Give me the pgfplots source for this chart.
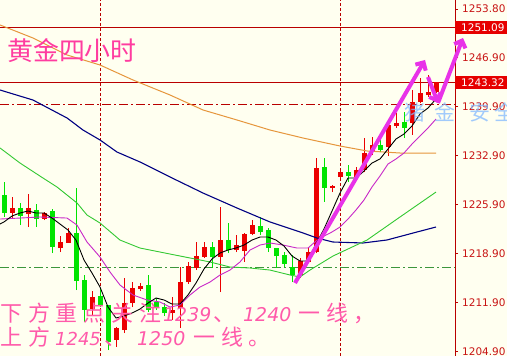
\documentclass[border=0pt]{standalone}
\usepackage{pgfplots}
\pgfplotsset{compat=1.18}
\usepackage{pgfplotstable}
\usepackage{fontspec}
\setmainfont{DejaVu Sans}
\newfontfamily\cjk{Noto Sans CJK SC}
\newfontfamily\cjksp[LetterSpace=27]{Noto Sans CJK SC}
\usetikzlibrary{arrows.meta}

\definecolor{bg}{RGB}{255,255,240}
\definecolor{cred}{RGB}{235,0,0}
\definecolor{cgreen}{RGB}{0,228,0}
\definecolor{axred}{RGB}{185,0,0}
\definecolor{lblred}{RGB}{200,20,20}
\definecolor{boxred}{RGB}{230,0,0}
\definecolor{maMag}{RGB}{200,40,200}
\definecolor{maGreen}{RGB}{50,200,50}
\definecolor{maNavy}{RGB}{0,0,130}
\definecolor{maOrange}{RGB}{230,150,60}
\definecolor{hgreen}{RGB}{60,150,60}
\definecolor{pinkarrow}{RGB}{232,50,232}
\definecolor{pinktxt}{RGB}{255,60,160}
\definecolor{pinktxt2}{RGB}{255,90,170}
\definecolor{wmblue}{RGB}{130,185,255}

% red candles: x, body top, body bottom, wick high, wick low
\pgfplotstableread{
x bt bb wh wl
12.5 1225.40 1224.69 1226.97 1223.97
28.5 1225.40 1224.54 1227.40 1222.69
44.5 1224.69 1223.83 1224.83 1223.69
60.5 1220.55 1219.69 1221.40 1219.12
68.5 1221.83 1220.41 1222.55 1220.41
92.5 1212.70 1210.99 1213.56 1210.13
116.5 1208.28 1206.57 1208.42 1205.57
124.5 1211.84 1207.99 1215.41 1207.56
132.5 1213.99 1211.84 1214.84 1211.27
140.5 1214.27 1213.84 1214.70 1213.56
172.5 1210.85 1210.42 1212.70 1209.42
180.5 1214.84 1211.13 1216.98 1208.28
188.5 1217.12 1214.84 1217.70 1214.56
196.5 1218.55 1216.84 1220.55 1216.55
204.5 1219.84 1218.41 1220.55 1218.27
220.5 1220.83 1218.41 1225.54 1213.41
236.5 1220.12 1219.41 1221.55 1219.12
244.5 1221.69 1219.26 1221.83 1217.70
252.5 1222.97 1221.69 1223.69 1221.55
300.5 1217.84 1215.84 1218.27 1215.41
308.5 1219.12 1217.70 1219.69 1217.55
316.5 1231.11 1219.12 1232.53 1218.98
332.5 1228.54 1228.25 1228.68 1227.68
340.5 1230.54 1229.82 1230.82 1229.68
356.5 1230.82 1229.82 1231.25 1229.68
364.5 1233.25 1230.82 1235.39 1230.54
372.5 1234.39 1233.39 1235.53 1232.96
388.5 1237.24 1234.10 1237.67 1232.82
396.5 1237.53 1237.10 1238.96 1236.82
412.5 1240.53 1237.53 1242.24 1235.82
420.5 1241.81 1240.53 1243.95 1240.38
428.5 1241.95 1241.52 1244.38 1241.24
436.5 1243.38 1241.95 1243.38 1241.81
}\redc

% green candles
\pgfplotstableread{
x bt bb wh wl
4.5 1227.26 1224.69 1229.11 1224.12
20.5 1225.40 1224.26 1226.11 1222.97
36.5 1225.12 1223.83 1225.97 1222.69
52.5 1224.97 1219.84 1225.26 1218.98
76.5 1221.83 1214.98 1228.25 1213.70
84.5 1215.13 1210.85 1215.84 1209.13
100.5 1212.84 1211.56 1213.99 1211.27
108.5 1211.56 1206.28 1211.56 1205.14
148.5 1214.41 1210.85 1215.84 1210.56
156.5 1211.99 1211.27 1212.56 1210.85
164.5 1211.27 1210.42 1211.84 1209.99
212.5 1219.84 1218.41 1220.55 1216.84
228.5 1220.83 1219.41 1223.26 1218.98
260.5 1222.83 1221.98 1224.12 1221.55
268.5 1222.26 1219.69 1222.55 1219.12
276.5 1219.69 1218.55 1219.69 1216.84
284.5 1218.69 1217.41 1219.12 1216.98
292.5 1216.98 1215.84 1218.69 1214.84
324.5 1231.25 1228.25 1232.53 1226.26
348.5 1230.54 1229.97 1231.54 1229.11
380.5 1234.39 1233.68 1235.53 1233.39
404.5 1237.67 1236.82 1239.10 1235.39
}\greenc

\begin{document}
\begin{tikzpicture}
\fill[bg] (0,0) rectangle (507bp,356bp);
\begin{axis}[
  at={(0,0)}, anchor=south west, scale only axis,
  width=455bp, height=356bp,
  xmin=0, xmax=455, ymin=1204.285, ymax=1255.084,
  axis x line=none, axis y line*=right,
  axis line style={draw=axred, line width=1bp},
  ytick={1204.9,1211.9,1218.9,1225.9,1232.9,1239.9,1246.9,1253.8},
  yticklabel pos=right,
  tick align=outside, major tick length=3bp,
  tick style={draw=axred, line width=0.8bp},
  yticklabel style={font=\fontsize{10.5}{12}\selectfont, text=lblred, anchor=west, inner sep=0pt, xshift=4bp},
  /pgf/number format/fixed, /pgf/number format/fixed zerofill,
  /pgf/number format/precision=2, /pgf/number format/1000 sep={},
  /pgf/number format/assume math mode=true,
]
% horizontal / vertical reference lines
\addplot[axred, line width=1bp] coordinates {(0,1251.09) (455,1251.09)};
\addplot[axred, line width=1bp] coordinates {(0,1243.32) (455,1243.32)};
\addplot[axred, line width=0.9bp, dash pattern=on 9bp off 3bp on 2bp off 3bp] coordinates {(0,1240.2) (455,1240.2)};
\addplot[hgreen, line width=0.9bp, dash pattern=on 9bp off 3bp on 2bp off 3bp] coordinates {(0,1216.85) (455,1216.85)};
\addplot[axred, line width=0.9bp, dash pattern=on 3bp off 2bp] coordinates {(100,1204.285) (100,1255.084)};
\addplot[axred, line width=0.9bp, dash pattern=on 3bp off 2bp] coordinates {(340,1204.285) (340,1255.084)};

% candles: wicks
\addplot[draw=none, mark=none, error bars/.cd, y dir=plus, y explicit, error mark=none,
  error bar style={draw=cred, line width=1bp, solid}]
  table[x=x, y=wl, y error expr=\thisrow{wh}-\thisrow{wl}] {\redc};
\addplot[draw=none, mark=none, error bars/.cd, y dir=plus, y explicit, error mark=none,
  error bar style={draw=cgreen, line width=1bp, solid}]
  table[x=x, y=wl, y error expr=\thisrow{wh}-\thisrow{wl}] {\greenc};
% candles: bodies
\addplot[draw=none, mark=none, error bars/.cd, y dir=plus, y explicit, error mark=none,
  error bar style={draw=cred, line width=5bp, solid}]
  table[x=x, y=bb, y error expr=\thisrow{bt}-\thisrow{bb}] {\redc};
\addplot[draw=none, mark=none, error bars/.cd, y dir=plus, y explicit, error mark=none,
  error bar style={draw=cgreen, line width=5bp, solid}]
  table[x=x, y=bb, y error expr=\thisrow{bt}-\thisrow{bb}] {\greenc};

% moving averages
\addplot[maOrange, line width=1bp, mark=none] coordinates {(0,1251.52) (33,1249.66) (67,1247.24) (100,1245.81) (133,1243.67) (170,1241.53) (203,1239.39) (237,1237.96) (270,1236.53) (303,1235.39) (340,1234.25) (367,1233.54) (400,1233.25) (436,1233.25)};
\addplot[maNavy, line width=1.1bp, mark=none] coordinates {(0,1242.24) (33,1240.81) (67,1238.25) (83,1236.53) (100,1235.11) (117,1233.39) (140,1231.97) (170,1229.83) (203,1227.54) (237,1225.40) (270,1223.41) (303,1221.84) (317,1221.12) (333,1220.55) (363,1220.41) (387,1220.84) (417,1221.98) (436,1222.69)};
\addplot[maGreen, line width=0.9bp, mark=none] coordinates {(0,1233.97) (20,1231.82) (43,1229.68) (57,1228.40) (67,1227.26) (77,1226.12) (87,1224.40) (100,1223.26) (120,1220.83) (140,1219.69) (160,1219.12) (190,1218.27) (210,1217.70) (230,1216.98) (250,1216.84) (270,1216.55) (290,1215.84) (300,1215.56) (310,1216.55) (333,1218.55) (367,1220.83) (400,1224.12) (436,1227.68)};
\addplot[maMag, line width=0.9bp, mark=none] coordinates {(0,1223.83) (20,1223.97) (40,1224.12) (67,1223.97) (77,1222.97) (87,1220.55) (100,1218.41) (110,1216.27) (120,1214.41) (133,1212.99) (147,1212.28) (160,1211.99) (170,1211.27) (180,1211.56) (190,1212.99) (200,1214.13) (210,1214.84) (220,1215.84) (230,1216.55) (240,1217.70) (250,1219.41) (260,1220.12) (270,1220.41) (283,1220.12) (297,1219.69) (308,1219.69) (316,1220.69) (324,1221.40) (332,1221.98) (340,1222.69) (348,1223.83) (356,1225.12) (364,1226.55) (372,1228.40) (380,1229.97) (388,1231.68) (396,1232.40) (404,1233.25) (412,1234.53) (420,1235.68) (428,1236.82) (436,1238.10)};
\addplot[black, line width=0.9bp, mark=none] coordinates {(0,1223.12) (4,1223.41) (12,1224.26) (20,1224.69) (28,1224.97) (36,1224.69) (44,1224.69) (52,1223.97) (60,1223.12) (68,1222.26) (76,1220.83) (84,1217.98) (92,1216.13) (100,1214.13) (108,1211.27) (116,1209.71) (124,1209.99) (132,1210.42) (140,1210.99) (148,1211.84) (156,1212.56) (164,1212.28) (172,1211.70) (180,1211.70) (188,1212.99) (196,1214.70) (204,1216.70) (212,1218.13) (220,1218.98) (228,1219.41) (236,1219.69) (244,1220.12) (252,1220.83) (260,1221.26) (268,1221.26) (276,1220.83) (284,1219.98) (292,1218.55) (300,1217.84) (308,1217.84) (316,1220.27) (324,1222.41) (332,1224.97) (340,1227.54) (348,1229.68) (356,1229.68) (364,1230.68) (372,1231.82) (380,1232.40) (388,1233.82) (396,1235.25) (404,1235.96) (412,1237.10) (420,1238.82) (428,1239.67) (436,1240.96)};
\end{axis}

% boxed price labels
\fill[boxred] (455bp,321.5bp) rectangle (507bp,334.5bp);
\node[anchor=west, inner sep=0pt, text=white, font=\fontsize{10.5}{12}\selectfont] at (461bp,328bp) {1251.09};
\fill[boxred] (455bp,267.1bp) rectangle (507bp,280.1bp);
\node[anchor=west, inner sep=0pt, text=white, font=\fontsize{10.5}{12}\selectfont] at (461bp,273.6bp) {1243.32};

% watermark
\begin{scope}[opacity=0.75]
\node[anchor=base west, inner sep=0pt, text=wmblue, font=\cjk\fontsize{21}{21}\selectfont] at (404bp,235bp) {猪};
\node[anchor=base west, inner sep=0pt, text=wmblue, font=\cjk\fontsize{21}{21}\selectfont] at (434bp,235bp) {金};
\node[anchor=base west, inner sep=0pt, text=wmblue, font=\cjk\fontsize{21}{21}\selectfont] at (469bp,235bp) {安};
\node[anchor=base west, inner sep=0pt, text=wmblue, font=\cjk\fontsize{21}{21}\selectfont] at (494bp,235bp) {全};
\end{scope}

% arrows
\draw[pinkarrow, line width=4bp, -{Straight Barb[length=6bp,width=12bp]}] (295bp,73bp) -- (425bp,296bp);
\draw[pinkarrow, line width=4bp, -{Straight Barb[length=6bp,width=12bp]}] (428bp,279bp) -- (438bp,253bp);
\draw[pinkarrow, line width=4bp, -{Straight Barb[length=6bp,width=12bp]}] (438bp,253bp) -- (463bp,318bp);

% title
\node[anchor=base west, inner sep=0pt, text=pinktxt, font=\cjk\fontsize{26}{26}\selectfont] at (7bp,295bp) {黄金四小时};

% bottom comment
\begin{scope}[every node/.style={anchor=base west, inner sep=0pt, text=pinktxt2}]
\node[font=\cjksp\fontsize{22}{22}\selectfont] at (0bp,34.5bp) {下方重点关注};
\node[font=\fontsize{19}{19}\selectfont\itshape] at (163bp,34.5bp) {1239};
\node[font=\cjk\fontsize{22}{22}\selectfont] at (213bp,34.5bp) {、};
\node[font=\fontsize{19}{19}\selectfont\itshape] at (243bp,34.5bp) {1240};
\node[font=\cjksp\fontsize{22}{22}\selectfont] at (298bp,34.5bp) {一线，};
\node[font=\cjksp\fontsize{22}{22}\selectfont] at (0bp,11bp) {上方};
\node[font=\fontsize{18}{18}\selectfont\itshape] at (55bp,11bp) {1245};
\node[font=\cjk\fontsize{22}{22}\selectfont] at (104bp,11bp) {、};
\node[font=\fontsize{19}{19}\selectfont\itshape] at (137bp,11bp) {1250};
\node[font=\cjksp\fontsize{22}{22}\selectfont] at (193bp,11bp) {一线。};
\end{scope}

\pgfresetboundingbox
\useasboundingbox (0,0) rectangle (507bp,356bp);
\end{tikzpicture}
\end{document}
